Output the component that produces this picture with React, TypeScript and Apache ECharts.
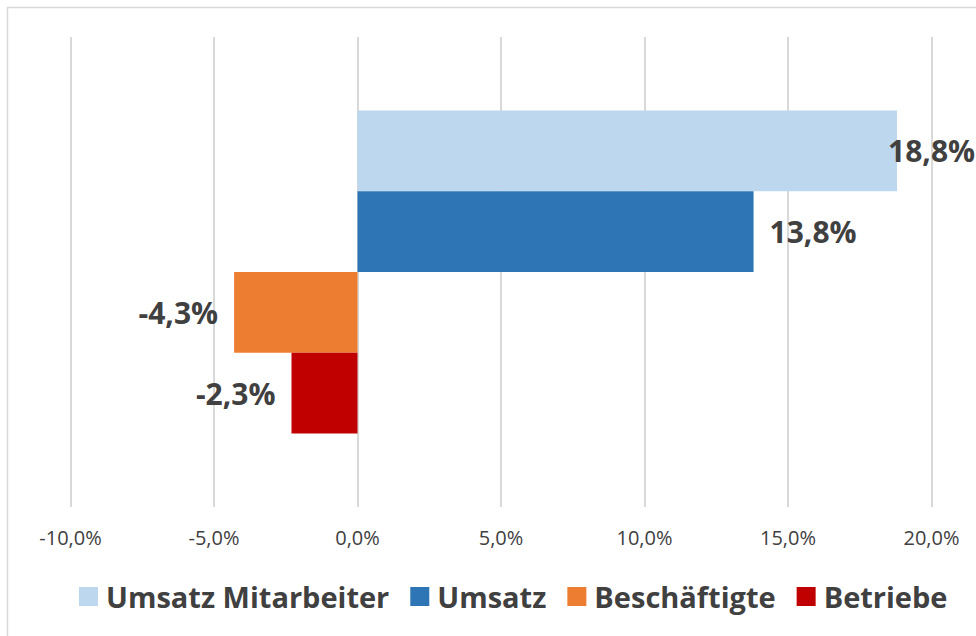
import React, { useEffect, useRef } from "react";
import * as echarts from "echarts";

const categories: string[] = ["Veränderung"];
const seriesNames: string[] = ["Umsatz Mitarbeiter", "Umsatz", "Beschäftigte", "Betriebe"];
const umsatzMitarbeiter: number[] = [18.8];
const umsatz: number[] = [13.8];
const beschaeftigte: number[] = [-4.3];
const betriebe: number[] = [-2.3];
const colors: string[] = ["#BDD7EE", "#2E75B6", "#ED7D31", "#C00000"];
const axisMin = -10;
const axisMax = 20;
const axisInterval = 5;

const fmt = (v: number) => v.toFixed(1).replace(".", ",") + "%";

export default function App() {
  const ref = useRef<HTMLDivElement>(null);
  useEffect(() => {
    if (!ref.current) return;
    const chart = echarts.init(ref.current, undefined, { renderer: "svg" });
    const values = [umsatzMitarbeiter, umsatz, beschaeftigte, betriebe];
    const labelStyle = {
      show: true,
      fontFamily: "Open Sans",
      fontWeight: "bold" as const,
      fontSize: 30,
      color: "#404040",
      formatter: (p: any) => fmt(p.value),
    };
    const series = seriesNames.map((name, i) => ({
      type: "bar" as const,
      name,
      data: values[i],
      barGap: "0%",
      barCategoryGap: "31.3%",
      itemStyle: { color: colors[i] },
      label: {
        ...labelStyle,
        position: values[i][0] >= 0 ? "right" : "left",
        distance: i === 0 ? -9 : 16,
      },
    }));
    chart.setOption({
      animation: false,
      backgroundColor: "#ffffff",
      grid: { left: 70.5, right: 44.5, top: 37, bottom: 129, containLabel: false },
      xAxis: {
        type: "value",
        min: axisMin,
        max: axisMax,
        interval: axisInterval,
        axisLine: { show: false },
        axisTick: { show: false },
        splitLine: { show: true, lineStyle: { color: "#d9d9d9", width: 2 } },
        axisLabel: {
          fontFamily: "Open Sans",
          fontSize: 20,
          color: "#404040",
          margin: 20,
          formatter: (v: number) => fmt(v),
        },
      },
      yAxis: {
        type: "category",
        data: categories,
        inverse: true,
        axisLine: { show: false },
        axisTick: { show: false },
        axisLabel: { show: false },
        splitLine: { show: false },
      },
      legend: {
        left: 79,
        top: 582,
        padding: 0,
        itemWidth: 19,
        itemHeight: 19,
        itemGap: 21,
        icon: "rect",
        textStyle: {
          fontFamily: "Open Sans",
          fontWeight: "bold",
          fontSize: 29,
          color: "#404040",
          padding: [0, 0, 0, 3],
        },
        data: seriesNames,
      },
      graphic: [
        {
          type: "rect",
          shape: { x: 7.5, y: 7.5, width: 1000, height: 700 },
          style: { fill: "none", stroke: "#d9d9d9", lineWidth: 1.5 },
          silent: true,
          z: -1,
        },
      ],
      series,
    });
    return () => chart.dispose();
  }, []);
  return (
    <div
      ref={ref}
      style={{ position: "fixed", left: 0, top: 0, width: 976, height: 636 }}
    />
  );
}
